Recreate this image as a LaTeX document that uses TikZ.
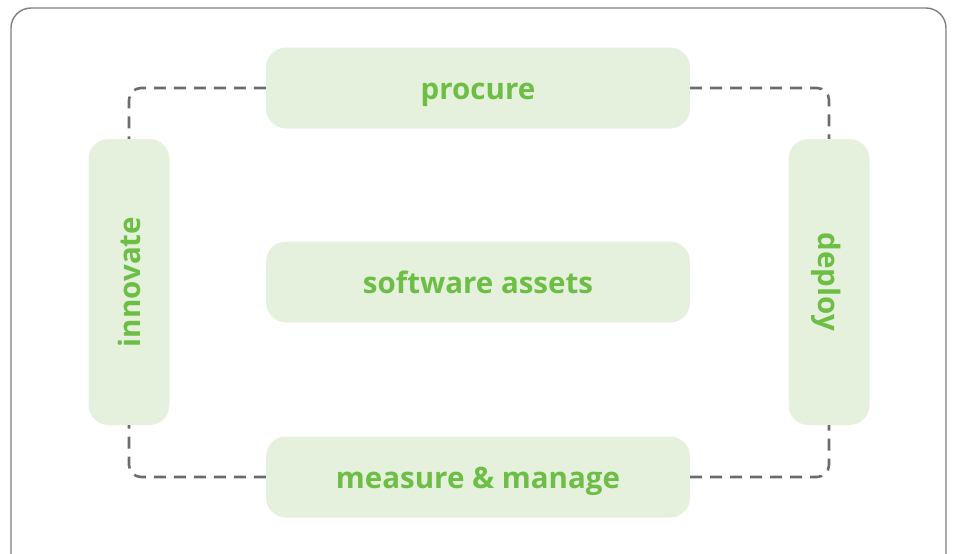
\documentclass[tikz,border=0pt]{standalone}
\usepackage{fontspec}
\setmainfont{Open Sans}
\usetikzlibrary{positioning}

\definecolor{leaf}{RGB}{109,190,69}
\definecolor{mint}{RGB}{229,241,221}
\definecolor{slate}{RGB}{108,108,112}

\tikzset{
    phase/.style={rectangle,rounded corners=20pt,fill=mint,text=leaf,
        font=\fontsize{29.5}{34}\selectfont\bfseries,
        text height=24pt,text depth=2pt,
        minimum width=424pt,minimum height=81pt,inner sep=0pt},
    upright/.style={phase,minimum width=286pt},
    loopline/.style={slate,line width=2.6pt,dash pattern=on 12pt off 8pt,rounded corners=12pt}
}

\begin{document}
\begin{tikzpicture}[x=1pt,y=-1pt]

    % canvas
    \useasboundingbox (0,0) rectangle (954,554);
    \draw[gray,line width=1.4pt,rounded corners=20pt] (11,8) rectangle (946,580);

    % boxes
    \node[phase] (assets) at (478,282) {software assets};
    \node[phase] (procure) at (478,88) {procure};
    \node[phase] (measure) at (478,477) {measure \& manage};
    \node[upright,rotate=90] (innovate) at (129,282) {innovate};
    \node[upright,rotate=-90] (deploy) at (829,282) {deploy};

    % dashed cycle
    \draw[loopline] (procure.west) -| (innovate.east);
    \draw[loopline] (procure.east) -| (deploy.west);
    \draw[loopline] (measure.west) -| (innovate.west);
    \draw[loopline] (measure.east) -| (deploy.east);

\end{tikzpicture}
\end{document}
